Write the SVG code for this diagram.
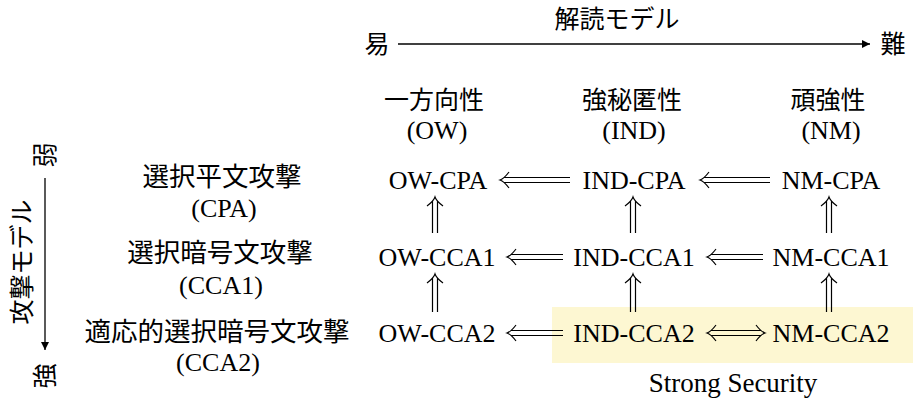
<svg xmlns="http://www.w3.org/2000/svg" width="917" height="408" viewBox="0 0 917 408">
<style>
.lat{font-family:"Liberation Serif","Noto Sans CJK JP",serif;font-size:26px;fill:#000;text-anchor:middle}
.jp{font-family:"Noto Sans CJK JP","Liberation Serif",serif;font-size:25px;fill:#000;text-anchor:middle}
.jpl{font-family:"Noto Sans CJK JP","Liberation Serif",serif;font-size:26.5px;fill:#000;text-anchor:middle}
.dbl{fill:none;stroke:#000;stroke-width:1.2}
.ln{fill:none;stroke:#000;stroke-width:1.3}
</style>
<defs>
<marker id="tri" viewBox="0 0 10 10" refX="10" refY="5" markerWidth="8" markerHeight="8" markerUnits="userSpaceOnUse" orient="auto">
<path d="M0,0 L10,5 L0,10 Z" fill="#000"/>
</marker>
</defs>
<rect id="strong-bg" x="552" y="307" width="361" height="56" fill="#fdf7d2"/>
<g id="axis-top">
<text class="jp" x="617" y="28">解読モデル</text>
<text class="jp" x="377" y="53">易</text>
<text class="jp" x="893" y="53">難</text>
<line class="ln" x1="398" y1="44" x2="870" y2="44" marker-end="url(#tri)"/>
</g>
<g id="axis-left">
<text class="jp" transform="translate(45,155) rotate(-90)" y="9">弱</text>
<text class="jp" transform="translate(22,262) rotate(-90)" y="9">攻撃モデル</text>
<text class="jp" transform="translate(45,376) rotate(-90)" y="9">強</text>
<line class="ln" x1="45" y1="178" x2="45" y2="350" marker-end="url(#tri)"/>
</g>
<g id="headers">
<text class="jp" x="434" y="109">一方向性</text>
<text class="lat" x="437" y="139">(OW)</text>
<text class="jp" x="632" y="109">強秘匿性</text>
<text class="lat" x="634" y="139">(IND)</text>
<text class="jp" x="828" y="109">頑強性</text>
<text class="lat" x="831" y="139">(NM)</text>
</g>
<g id="attack-labels">
<text class="jpl" x="222" y="186">選択平文攻撃</text>
<text class="lat" x="224" y="217">(CPA)</text>
<text class="jpl" x="220" y="262">選択暗号文攻撃</text>
<text class="lat" x="221" y="294">(CCA1)</text>
<text class="jpl" x="217" y="341">適応的選択暗号文攻撃</text>
<text class="lat" x="218" y="371">(CCA2)</text>
</g>
<g id="ow-cpa"><text class="lat" x="438" y="189">OW-CPA</text></g>
<g id="ind-cpa"><text class="lat" x="634" y="189">IND-CPA</text></g>
<g id="nm-cpa"><text class="lat" x="831" y="189">NM-CPA</text></g>
<g id="ow-cca1"><text class="lat" x="437" y="266">OW-CCA1</text></g>
<g id="ind-cca1"><text class="lat" x="634" y="266">IND-CCA1</text></g>
<g id="nm-cca1"><text class="lat" x="831" y="266">NM-CCA1</text></g>
<g id="ow-cca2"><text class="lat" x="437" y="342">OW-CCA2</text></g>
<g id="ind-cca2"><text class="lat" x="634" y="342">IND-CCA2</text></g>
<g id="nm-cca2"><text class="lat" x="831" y="342">NM-CCA2</text></g>
<g id="strong-label"><text class="lat" x="733" y="392" style="font-size:27px">Strong Security</text></g>
<g id="connectors">
<path class="dbl" d="M504,177.5 H570 M504,182.5 H570 M509,172 C506,176 503,179 500,180 C503,181 506,184 509,188"/>
<path class="dbl" d="M704,177.5 H770 M704,182.5 H770 M709,172 C706,176 703,179 700,180 C703,181 706,184 709,188"/>
<path class="dbl" d="M511,254.5 H563 M511,259.5 H563 M516,249 C513,253 510,256 507,257 C510,258 513,261 516,265"/>
<path class="dbl" d="M711,254.5 H763 M711,259.5 H763 M716,249 C713,253 710,256 707,257 C710,258 713,261 716,265"/>
<path class="dbl" d="M511,330.5 H563 M511,335.5 H563 M516,325 C513,329 510,332 507,333 C510,334 513,337 516,341"/>
<path class="dbl" d="M711,330.5 H761 M711,335.5 H761 M716,325 C713,329 710,332 707,333 C710,334 713,337 716,341 M756,325 C759,329 762,332 765,333 C762,334 759,337 756,341"/>
<path class="dbl" d="M432.5,201 V233 M437.5,201 V233 M427,206 C431,203 434,200 435,197 C436,200 439,203 443,206"/>
<path class="dbl" d="M630.5,201 V233 M635.5,201 V233 M625,206 C629,203 632,200 633,197 C634,200 637,203 641,206"/>
<path class="dbl" d="M826.5,201 V233 M831.5,201 V233 M821,206 C825,203 828,200 829,197 C830,200 833,203 837,206"/>
<path class="dbl" d="M432.5,278 V312 M437.5,278 V312 M427,283 C431,280 434,277 435,274 C436,277 439,280 443,283"/>
<path class="dbl" d="M630.5,278 V312 M635.5,278 V312 M625,283 C629,280 632,277 633,274 C634,277 637,280 641,283"/>
<path class="dbl" d="M826.5,278 V312 M831.5,278 V312 M821,283 C825,280 828,277 829,274 C830,277 833,280 837,283"/>
</g>
</svg>
